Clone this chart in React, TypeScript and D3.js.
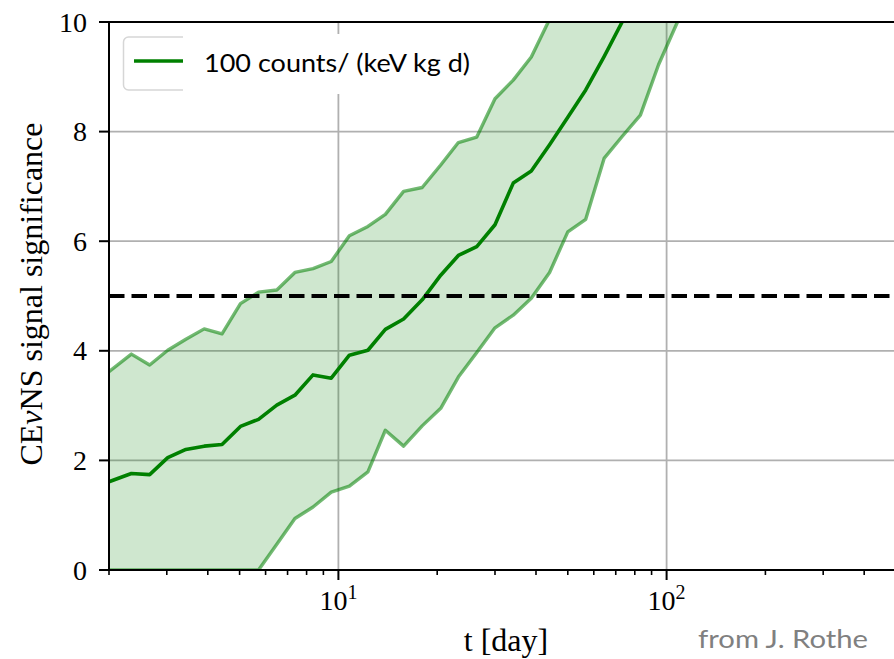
import React from 'react';
import * as d3 from 'd3';

// exposure time in days
const T = [2.0, 2.34, 2.66, 3.02, 3.43, 3.9, 4.42, 5.03, 5.71, 6.49, 7.37, 8.37, 9.51, 10.8, 12.3, 13.9, 15.8, 18.0, 20.5, 23.2, 26.4, 30.0, 34.1, 38.7, 44.0, 50.0, 56.7, 64.5, 73.2, 83.2, 94.5, 107, 122];
// median significance
const CENTER = [1.61, 1.76, 1.74, 2.05, 2.2, 2.26, 2.29, 2.62, 2.75, 3.01, 3.19, 3.56, 3.5, 3.92, 4.01, 4.39, 4.58, 4.93, 5.38, 5.74, 5.9, 6.3, 7.06, 7.28, 7.76, 8.26, 8.76, 9.37, 10.0, 10.7, 11.4, 12.1, 12.8];
// upper band edge
const UPPER = [3.62, 3.94, 3.74, 4.01, 4.21, 4.4, 4.31, 4.86, 5.07, 5.11, 5.43, 5.5, 5.63, 6.1, 6.27, 6.49, 6.91, 6.98, 7.39, 7.8, 7.9, 8.6, 8.94, 9.36, 10.05, 10.8, 11.5, 12.2, 12.9, 13.6, 14.3, 15.0, 15.7];
// lower band edge
const LOWER = [0, 0, 0, 0, 0, 0, 0, 0, 0, 0.47, 0.94, 1.15, 1.42, 1.53, 1.79, 2.55, 2.26, 2.63, 2.95, 3.52, 3.97, 4.42, 4.65, 4.96, 5.43, 6.17, 6.4, 7.51, 7.91, 8.3, 9.22, 9.95, 10.7];

const THRESHOLD = 5;
const Y_TICKS = [0, 2, 4, 6, 8, 10];
const X_MAJOR = [10, 100];
const X_MAJOR_EXP = ['1', '2'];
const LEGEND_LABEL = '100 counts/ (keV kg d)';
const Y_LABEL_PARTS = ['CE', 'ν', 'NS signal significance'];
const X_LABEL = 't [day]';
const CREDIT = 'from J. Rothe';

const W = 894;
const H = 659;
const L = 109;
const R = 896;
const TOP = 22;
const BOT = 570;

export default function App() {
  const x = d3.scaleLog().domain([2, 500]).range([L, R]);
  const y = d3.scaleLinear().domain([0, 10]).range([BOT, TOP]);

  const line = (vals: number[]) =>
    d3.line<number>().x((_, i) => x(T[i])).y((d) => y(d))(vals) || '';
  const area =
    d3
      .area<number>()
      .x((_, i) => x(T[i]))
      .y0((_, i) => y(LOWER[i]))
      .y1((d) => y(d))(UPPER) || '';

  const minor: number[] = [];
  [1, 10, 100].forEach((dec) => {
    for (let m = 2; m <= 9; m++) {
      const v = m * dec;
      if (v >= 2 && v <= 500) minor.push(v);
    }
  });

  const serif = '"Liberation Serif", "DejaVu Serif", serif';
  const sans = 'Lato, "Open Sans", sans-serif';
  const grid = '#b0b0b0';

  return (
    <svg width={W} height={H} style={{ position: 'absolute', left: 0, top: 0, background: '#fff' }}>
      <defs>
        <clipPath id="plot">
          <rect x={L} y={TOP} width={R - L} height={BOT - TOP} />
        </clipPath>
      </defs>
      <rect x={0} y={0} width={W} height={H} fill="#fff" />
      {/* grid */}
      {Y_TICKS.filter((t) => t > 0 && t < 10).map((t) => (
        <line key={'gy' + t} x1={L} x2={R} y1={y(t)} y2={y(t)} stroke={grid} strokeWidth={1.8} />
      ))}
      {X_MAJOR.map((t) => (
        <line key={'gx' + t} x1={x(t)} x2={x(t)} y1={TOP} y2={BOT} stroke={grid} strokeWidth={1.8} />
      ))}
      <g clipPath="url(#plot)">
        <path d={area} fill="green" fillOpacity={0.19} stroke="none" />
        <path d={line(UPPER)} fill="none" stroke="green" strokeOpacity={0.55} strokeWidth={3.4} strokeLinejoin="round" />
        <path d={line(LOWER)} fill="none" stroke="green" strokeOpacity={0.55} strokeWidth={3.4} strokeLinejoin="round" />
        <path d={line(CENTER)} fill="none" stroke="green" strokeWidth={3.6} strokeLinejoin="round" />
        <line x1={L} x2={R} y1={y(THRESHOLD)} y2={y(THRESHOLD)} stroke="#000" strokeWidth={4} strokeDasharray="15.5,7" />
      </g>
      {/* spines */}
      <line x1={L} x2={L} y1={TOP} y2={BOT} stroke="#000" strokeWidth={2} strokeLinecap="square" />
      <line x1={L} x2={R} y1={TOP} y2={TOP} stroke="#000" strokeWidth={2} strokeLinecap="square" />
      <line x1={L} x2={R} y1={BOT} y2={BOT} stroke="#000" strokeWidth={2} strokeLinecap="square" />
      <line x1={R} x2={R} y1={TOP} y2={BOT} stroke="#000" strokeWidth={2} />
      {/* y ticks */}
      {Y_TICKS.map((t) => (
        <g key={'yt' + t}>
          <line x1={L - 10} x2={L} y1={y(t)} y2={y(t)} stroke="#000" strokeWidth={2} />
          <text x={87} y={y(t)} dy="0.34em" textAnchor="end" fontFamily={serif} fontSize={28} fill="#000">
            {t}
          </text>
        </g>
      ))}
      {/* x ticks */}
      {minor.map((t) => (
        <line key={'mx' + t} x1={x(t)} x2={x(t)} y1={BOT} y2={BOT + 5} stroke="#000" strokeWidth={1.6} />
      ))}
      {X_MAJOR.map((t, i) => (
        <g key={'xt' + t}>
          <line x1={x(t)} x2={x(t)} y1={BOT} y2={BOT + 10} stroke="#000" strokeWidth={2} />
          <text x={x(t)} y={610} textAnchor="middle" fontFamily={serif} fontSize={28} fill="#000">
            10
            <tspan dy={-11} fontSize={20}>
              {X_MAJOR_EXP[i]}
            </tspan>
          </text>
        </g>
      ))}
      {/* axis labels */}
      <text
        transform={`translate(42, ${(TOP + BOT) / 2 - 2}) rotate(-90)`}
        textAnchor="middle"
        fontFamily={serif}
        fontSize={32}
        fill="#000"
      >
        {Y_LABEL_PARTS[0]}
        <tspan fontStyle="italic">{Y_LABEL_PARTS[1]}</tspan>
        {Y_LABEL_PARTS[2]}
      </text>
      <text x={506} y={651} textAnchor="middle" fontFamily={serif} fontSize={32} fill="#000">
        {X_LABEL}
      </text>
      <text x={698} y={648} fontFamily={sans} fontSize={25} fill="#808080" textLength={170} lengthAdjust="spacingAndGlyphs">
        {CREDIT}
      </text>
      {/* legend */}
      <rect x={123.5} y={37} width={330} height={53} rx={5} fill="#fff" fillOpacity={0.8} stroke="#d6d6d6" strokeWidth={1.5} />
      <line x1={134} x2={190} y1={61} y2={61} stroke="green" strokeWidth={3.6} />
      <rect x={183} y={34} width={300} height={60} fill="#fff" />
      <text x={204} y={72} fontFamily={sans} fontSize={25} fill="#000" textLength={266} lengthAdjust="spacingAndGlyphs">
        {LEGEND_LABEL}
      </text>
    </svg>
  );
}
